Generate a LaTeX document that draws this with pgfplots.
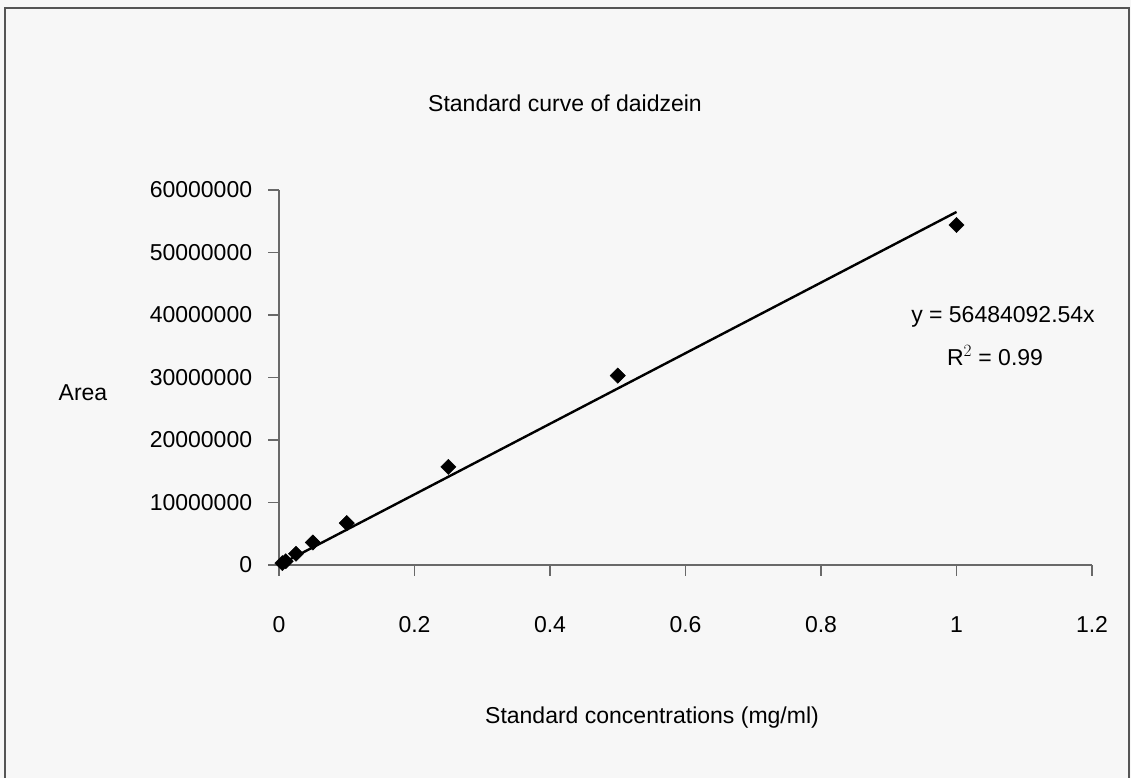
\documentclass[border=0pt]{standalone}
\usepackage{pgfplots}
\pgfplotsset{compat=1.18}
\usepackage{fontspec}
\setmainfont{Liberation Sans}

% measured points of the daidzein standard series
\pgfplotstableread{
conc   area
0.005  300000
0.01   600000
0.025  1800000
0.05   3600000
0.1    6700000
0.25   15700000
0.5    30300000
1.0    54400000
}\daidzein

\definecolor{axisgray}{RGB}{105,105,105}
\definecolor{framegray}{RGB}{85,85,85}

\begin{document}
\begin{tikzpicture}[x=1bp,y=1bp]
\fontsize{23bp}{28bp}\selectfont
\useasboundingbox (0,0) rectangle (1131,778);
\fill[white!97!black] (0,0) rectangle (1131,778);
% chart frame
\draw[framegray, line width=2bp] (5,0) -- (5,770) -- (1129,770) -- (1129,0);

\begin{axis}[
  at={(279bp,213bp)}, anchor=origin,
  scale only axis,
  width=813bp, height=375bp,
  xmin=0, xmax=1.2, ymin=0, ymax=60000000,
  axis lines=left,
  axis line style={-, axisgray, line width=1.6bp},
  xtick={0,0.2,0.4,0.6,0.8,1,1.2},
  ytick={0,10000000,20000000,30000000,40000000,50000000,60000000},
  xticklabels={0,0.2,0.4,0.6,0.8,1,1.2},
  yticklabels={0,10000000,20000000,30000000,40000000,50000000,60000000},
  scaled ticks=false,
  tick align=outside,
  major tick length=11bp,
  tick style={axisgray, line width=1.6bp},
  xticklabel style={yshift=-33bp},
  yticklabel style={xshift=-8bp},
  ticklabel style={font=\fontsize{23bp}{28bp}\selectfont},
  clip=false,
]
\addplot[black, line width=2.4bp, no marks, forget plot] coordinates {(0,0) (1,56484092.54)};
\addplot[only marks, mark=square*, mark size=5.4bp, mark options={rotate=45, fill=black, draw=black}]
  table[x=conc, y=area] {\daidzein};
\end{axis}

\node at (565,675) {Standard curve of daidzein};
\node at (83,385) {Area};
\node at (652,60) {Standard concentrations (mg/ml)};
\node at (1003,461) {y = 56484092.54x};
\node at (995,422) {R$^{2}$ = 0.99};
\end{tikzpicture}
\end{document}
